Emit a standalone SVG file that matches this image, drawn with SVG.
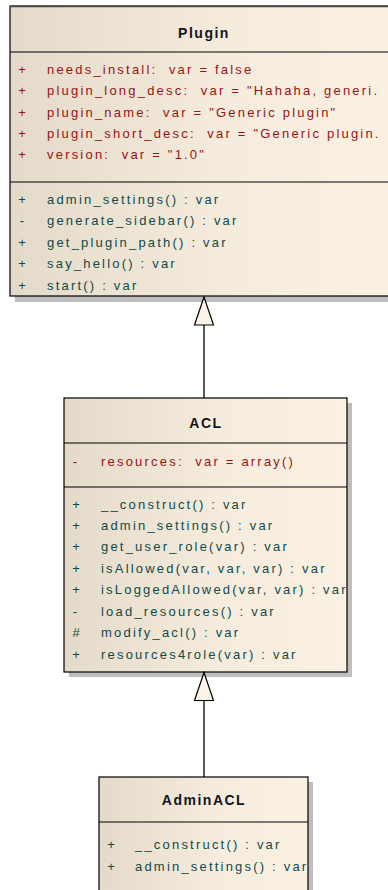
<svg xmlns="http://www.w3.org/2000/svg" width="388" height="890" viewBox="0 0 388 890">
  <defs>
    <linearGradient id="classFill" x1="0" y1="0" x2="1" y2="0">
      <stop offset="0" stop-color="#E4DAC9"/>
      <stop offset="0.55" stop-color="#F6ECDD"/>
      <stop offset="1" stop-color="#FBF1E3"/>
    </linearGradient>
    <marker id="inherit" markerUnits="userSpaceOnUse" viewBox="-29 -11 31 22" refX="0" refY="0" markerWidth="31" markerHeight="22" orient="auto">
      <path d="M0,0 L-28,-9.5 L-28,9.5 Z" fill="#FBF3E6" stroke="#000" stroke-width="1.2" stroke-linejoin="miter"/>
    </marker>
    <clipPath id="clipPlugin"><rect x="11" y="7" width="377" height="288"/></clipPath>
    <clipPath id="clipAcl"><rect x="65" y="399" width="281" height="272"/></clipPath>
    <clipPath id="clipAdmin"><rect x="100" y="778" width="207" height="120"/></clipPath>
  </defs>
  <style>
    .shadow { fill: #BEBEBE; }
    .box { fill: url(#classFill); stroke: #000; stroke-width: 1.2; }
    .sep { stroke: #000; stroke-width: 1.2; }
    .title { font-family: "Liberation Sans", Arial, sans-serif; font-size: 14px; font-weight: bold; fill: #141420; text-anchor: middle; letter-spacing: 1.5px; }
    .attr, .oper { font-family: "Liberation Sans", Arial, sans-serif; font-size: 13px; letter-spacing: 2.2px; white-space: pre; }
    .attr { fill: #9A1212; }
    .oper { fill: #0F4A4A; }
    .vis { text-anchor: middle; letter-spacing: 0; }
    .edge { stroke: #000; stroke-width: 1.3; fill: none; }
  </style>

  <!-- class Plugin -->
  <g id="plugin">
    <rect class="shadow" x="15" y="11" width="400" height="291"/>
    <rect class="box" x="10" y="6" width="400" height="290"/>
    <line x1="10" y1="6.5" x2="400" y2="6.5" stroke="#4A4A4A" stroke-width="1.6"/>
    <line class="sep" x1="10" y1="52" x2="400" y2="52"/>
    <line class="sep" x1="10" y1="182" x2="400" y2="182"/>
    <text class="title" x="204" y="38">Plugin</text>
    <g clip-path="url(#clipPlugin)">
      <text class="attr vis" x="22" y="74">+</text>
      <text class="attr" x="47" y="74">needs_install:  var = false</text>
      <text class="attr vis" x="22" y="95">+</text>
      <text class="attr" x="47" y="95">plugin_long_desc:  var = "Hahaha, generi.</text>
      <text class="attr vis" x="22" y="117">+</text>
      <text class="attr" x="47" y="117">plugin_name:  var = "Generic plugin"</text>
      <text class="attr vis" x="22" y="138">+</text>
      <text class="attr" x="47" y="138">plugin_short_desc:  var = "Generic plugin.</text>
      <text class="attr vis" x="22" y="159">+</text>
      <text class="attr" x="47" y="159">version:  var = "1.0"</text>

      <text class="oper vis" x="22" y="204">+</text>
      <text class="oper" x="47" y="204">admin_settings() : var</text>
      <text class="oper vis" x="22" y="225">-</text>
      <text class="oper" x="47" y="225">generate_sidebar() : var</text>
      <text class="oper vis" x="22" y="247">+</text>
      <text class="oper" x="47" y="247">get_plugin_path() : var</text>
      <text class="oper vis" x="22" y="268">+</text>
      <text class="oper" x="47" y="268">say_hello() : var</text>
      <text class="oper vis" x="22" y="290">+</text>
      <text class="oper" x="47" y="290">start() : var</text>
    </g>
  </g>

  <!-- class ACL -->
  <g id="acl">
    <rect class="shadow" x="69" y="403" width="283" height="274"/>
    <rect class="box" x="64" y="398" width="283" height="274"/>
    <line class="sep" x1="64" y1="443" x2="347" y2="443"/>
    <line class="sep" x1="64" y1="487" x2="347" y2="487"/>
    <text class="title" x="206" y="428">ACL</text>
    <g clip-path="url(#clipAcl)">
      <text class="attr vis" x="75" y="466">-</text>
      <text class="attr" x="101" y="466">resources:  var = array()</text>

      <text class="oper vis" x="76" y="509">+</text>
      <text class="oper" x="101" y="509">__construct() : var</text>
      <text class="oper vis" x="76" y="530">+</text>
      <text class="oper" x="101" y="530">admin_settings() : var</text>
      <text class="oper vis" x="76" y="551">+</text>
      <text class="oper" x="101" y="551">get_user_role(var) : var</text>
      <text class="oper vis" x="76" y="573">+</text>
      <text class="oper" x="101" y="573">isAllowed(var, var, var) : var</text>
      <text class="oper vis" x="76" y="594">+</text>
      <text class="oper" x="101" y="594">isLoggedAllowed(var, var) : var</text>
      <text class="oper vis" x="75" y="616">-</text>
      <text class="oper" x="101" y="616">load_resources() : var</text>
      <text class="oper vis" x="76" y="637">#</text>
      <text class="oper" x="101" y="637">modify_acl() : var</text>
      <text class="oper vis" x="76" y="659">+</text>
      <text class="oper" x="101" y="659">resources4role(var) : var</text>
    </g>
  </g>

  <!-- class AdminACL -->
  <g id="adminacl">
    <rect class="shadow" x="104" y="782" width="209" height="120"/>
    <rect class="box" x="99" y="777" width="209" height="120"/>
    <line class="sep" x1="99" y1="822" x2="308" y2="822"/>
    <text class="title" x="204" y="805">AdminACL</text>
    <g clip-path="url(#clipAdmin)">
      <text class="oper vis" x="111" y="849">+</text>
      <text class="oper" x="135" y="849">__construct() : var</text>
      <text class="oper vis" x="111" y="871">+</text>
      <text class="oper" x="135" y="871">admin_settings() : var</text>
    </g>
  </g>

  <!-- generalization connectors -->
  <g id="connectors">
    <line class="edge" x1="204" y1="398" x2="204" y2="297" marker-end="url(#inherit)"/>
    <line class="edge" x1="204" y1="777" x2="204" y2="672.5" marker-end="url(#inherit)"/>
  </g>
</svg>
